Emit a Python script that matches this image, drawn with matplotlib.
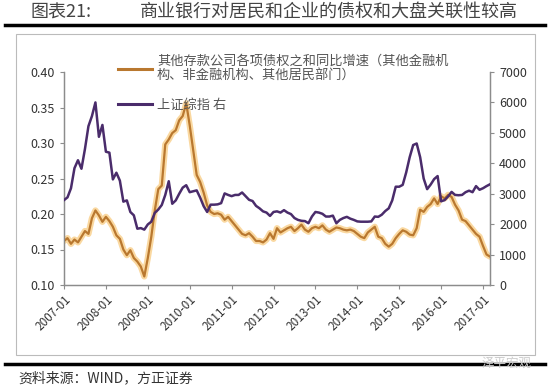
import numpy as np
import matplotlib
matplotlib.use("Agg")
import matplotlib.pyplot as plt
from matplotlib.lines import Line2D

plt.rcParams['font.family'] = ['Noto Sans CJK SC', 'DejaVu Sans']

# monthly data 2007-01 .. 2017-03
claims_yoy = [
    0.162, 0.166, 0.158, 0.164, 0.160, 0.168, 0.176, 0.172, 0.194, 0.205, 0.198, 0.189,
    0.196, 0.190, 0.182, 0.170, 0.165, 0.150, 0.142, 0.149, 0.138, 0.133, 0.126, 0.112,
    0.138, 0.168, 0.205, 0.235, 0.240, 0.298, 0.305, 0.314, 0.318, 0.332, 0.338, 0.356,
    0.325, 0.290, 0.255, 0.245, 0.230, 0.212, 0.203, 0.200, 0.201, 0.199, 0.192, 0.196,
    0.190, 0.184, 0.178, 0.172, 0.170, 0.173, 0.168, 0.162, 0.162, 0.160, 0.164, 0.173,
    0.165, 0.180, 0.174, 0.177, 0.180, 0.182, 0.176, 0.180, 0.185, 0.178, 0.175, 0.180,
    0.182, 0.180, 0.184, 0.178, 0.175, 0.178, 0.181, 0.180, 0.178, 0.177, 0.178, 0.176,
    0.172, 0.168, 0.166, 0.174, 0.178, 0.182, 0.168, 0.166, 0.158, 0.154, 0.158, 0.166,
    0.172, 0.177, 0.175, 0.171, 0.170, 0.180, 0.206, 0.203, 0.210, 0.214, 0.222, 0.214,
    0.225, 0.222, 0.227, 0.224, 0.213, 0.205, 0.192, 0.190, 0.184, 0.178, 0.172, 0.168,
    0.155, 0.143, 0.140,
]
sse_index = [
    2790, 2880, 3180, 3840, 4100, 3820, 4470, 5220, 5550, 6000, 4870, 5260,
    4380, 4350, 3470, 3690, 3430, 2740, 2780, 2400, 2290, 1850, 1870, 1820,
    1990, 2080, 2370, 2480, 2630, 2960, 3410, 2670, 2780, 3000, 3200, 3280,
    3050, 3080, 3110, 2870, 2590, 2400, 2640, 2640, 2650, 2690, 3010, 2960,
    2920, 2960, 2960, 3040, 2920, 2800, 2760, 2600, 2520, 2420, 2380, 2270,
    2400, 2420, 2380, 2460, 2380, 2330, 2200, 2140, 2110, 2100, 2030, 2250,
    2400, 2380, 2340, 2250, 2250, 2280, 2030, 2140, 2200, 2240, 2180, 2140,
    2090, 2080, 2080, 2080, 2090, 2250, 2240, 2310, 2430, 2520, 2780, 3230,
    3230, 3290, 3700, 4200, 4600, 4650, 4200, 3500, 3150, 3300, 3480, 3580,
    2750, 2790, 2910, 3060, 2960, 2950, 2960, 3050, 3100, 3050, 3250, 3130,
    3180, 3250, 3310,
]
tick_labels = ['2007-01', '2008-01', '2009-01', '2010-01', '2011-01', '2012-01',
               '2013-01', '2014-01', '2015-01', '2016-01', '2017-01']

label_claims = '其他存款公司各项债权之和同比增速（其他金融机\n构、非金融机构、其他居民部门）'
label_sse = '上证综指 右'

months = np.arange(len(claims_yoy))
c_orange = '#B9782F'
c_glow = '#F8C878'
c_purple = '#4A2C6B'
c_axis = '#8C8C8C'

fig = plt.figure(figsize=(5.5, 3.89), dpi=100)
ax = fig.add_axes([64/550, 1-285/389, 426/550, 213/389])
ax2 = ax.twinx()

ax.plot(months, claims_yoy, color=c_glow, lw=4.5, alpha=0.7, solid_capstyle='round', zorder=2)
ax.plot(months, claims_yoy, color=c_orange, lw=1.6, zorder=3)
ax2.plot(months, sse_index, color=c_purple, lw=1.8, zorder=3)

ax.set_xlim(0, len(claims_yoy) - 1)
ax.set_ylim(0.10, 0.40)
ax.set_yticks(np.arange(0.10, 0.401, 0.05))
ax.set_yticklabels(['%.2f' % v for v in np.arange(0.10, 0.401, 0.05)])
ax2.set_ylim(0, 7000)
ax2.set_yticks(range(0, 7001, 1000))
ax.set_xticks(range(0, 121, 12))
ax.set_xticklabels(tick_labels, rotation=45, ha='right', rotation_mode='anchor')

for a in (ax, ax2):
    for s in a.spines.values():
        s.set_color(c_axis)
        s.set_linewidth(0.9)
    a.spines['top'].set_visible(False)
    a.tick_params(colors=c_axis, labelcolor='#333333', labelsize=9, length=3, width=0.8)
ax.tick_params(axis='x', labelsize=8.5, pad=3)

handles = [Line2D([], [], color=c_orange, lw=2.2),
           Line2D([], [], color=c_purple, lw=2.2)]
fig.legend(handles, [label_claims, label_sse], loc='upper left',
           bbox_to_anchor=(118/550, 1-55/389), frameon=False, fontsize=9.5,
           handlelength=2.6, handletextpad=0.35, labelspacing=1.2,
           borderpad=0, borderaxespad=0, labelcolor='#555555')

# header, frame and footer
fig.text(30/550, 1-13/389, '图表21:', fontsize=13, color='#444444', va='center')
fig.text(140/550, 1-13/389, '商业银行对居民和企业的债权和大盘关联性较高', fontsize=13,
         color='#444444', va='center')
fig.add_artist(Line2D([5/550, 545/550], [1-25/389, 1-25/389], color='black', lw=2.5))
fig.add_artist(plt.Rectangle((16/550, 1-355/389), 519/550, 321/389, fill=False,
                             edgecolor='#BBBBBB', lw=0.8))
fig.add_artist(Line2D([5/550, 545/550], [1-364/389, 1-364/389], color='black', lw=2.5))
fig.text(18/550, 1-378/389, '资料来源：WIND，方正证券', fontsize=10, color='#333333',
         va='center', style='italic')
fig.text(532/550, 1-363/389, '泽平宏观', fontsize=9, color='#CCCCCC', va='center', ha='right')

fig.savefig('out.png', dpi=100)
